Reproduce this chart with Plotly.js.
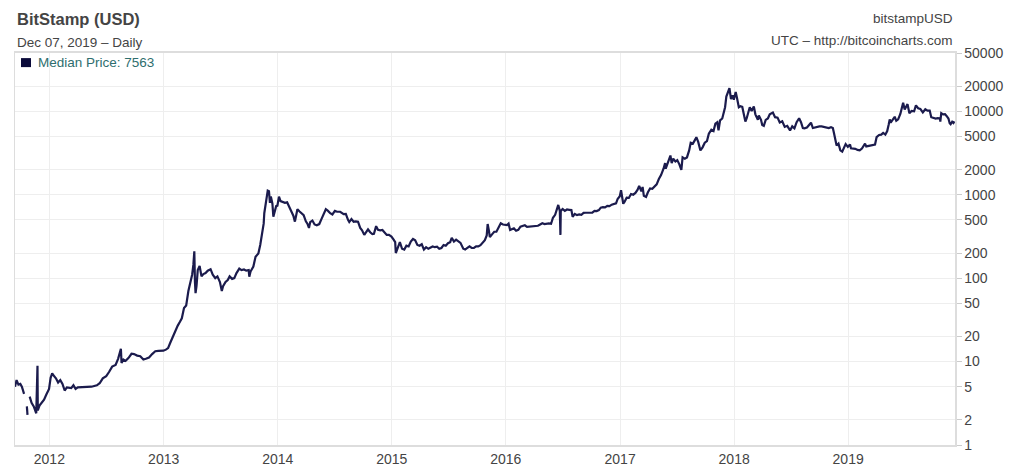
<!DOCTYPE html>
<html>
<head>
<meta charset="utf-8">
<script src="https://cdn.plot.ly/plotly-3.0.1.min.js"></script>
<style>html,body{margin:0;padding:0;background:#fff;}#chart{width:1024px;height:473px;}</style>
</head>
<body>
<div id="chart"></div>
<script>
// Daily median price, BitStamp (USD) (approximate)
const y2011 = [["09-13",5.0],["09-18",6.0],["09-24",5.3],["09-30",5.4],["10-05",5.0],["10-12",4.1],["10-16",null],["10-21",2.9],["10-23",2.3],["10-25",null],["10-30",3.8],["11-05",3.2],["11-12",2.9],["11-20",2.4],["11-24",8.9],["11-25",2.6],["12-01",3.0],["12-08",3.2],["12-15",3.5],["12-22",4.0],["12-31",4.7]];
const y2012 = [["01-05",6.4],["01-10",7.2],["01-15",6.8],["01-22",6.3],["01-29",5.6],["02-05",6.0],["02-12",5.4],["02-19",4.5],["02-26",4.9],["03-04",4.9],["03-11",4.8],["03-18",5.2],["03-25",4.7],["04-01",4.9],["04-15",4.9],["05-01",5.0],["05-15",5.0],["06-01",5.2],["06-10",5.5],["06-20",6.3],["07-01",6.7],["07-10",7.5],["07-20",8.7],["07-31",9.1],["08-08",10.8],["08-17",14.2],["08-19",9.6],["08-25",10.6],["09-01",10.2],["09-10",11.0],["09-20",12.4],["09-28",12.3],["10-08",11.8],["10-18",11.6],["10-28",10.6],["11-05",10.8],["11-15",11.2],["11-25",12.3],["12-05",13.3],["12-15",13.4],["12-31",13.5]];
const y2013 = [["01-08",13.9],["01-15",14.5],["01-22",16.8],["01-31",20.4],["02-08",23],["02-15",27],["02-22",30],["02-28",33],["03-07",44],["03-14",47],["03-21",70],["03-28",88],["04-02",110],["04-06",145],["04-09",210],["04-11",90],["04-13",66],["04-16",80],["04-20",125],["04-26",140],["05-02",105],["05-08",112],["05-15",115],["05-22",123],["05-31",128],["06-07",110],["06-15",100],["06-22",105],["06-30",90],["07-06",70],["07-10",80],["07-18",90],["07-25",95],["07-31",105],["08-08",98],["08-15",100],["08-22",115],["08-31",130],["09-07",125],["09-15",127],["09-22",123],["09-30",125],["10-02",104],["10-06",120],["10-15",138],["10-22",180],["10-31",198],["11-06",250],["11-12",330],["11-17",450],["11-19",600],["11-23",800],["11-30",1120],["12-04",1100],["12-07",800],["12-10",950],["12-15",780],["12-18",546],["12-22",620],["12-27",730],["12-31",740]];
const y2014 = [["01-05",950],["01-10",840],["01-17",820],["01-24",800],["01-31",810],["02-07",700],["02-14",620],["02-20",560],["02-25",476],["02-28",560],["03-05",670],["03-12",630],["03-19",600],["03-25",570],["04-01",480],["04-06",450],["04-11",400],["04-15",470],["04-22",490],["04-29",440],["05-06",430],["05-14",445],["05-22",520],["05-31",630],["06-04",670],["06-11",640],["06-18",600],["06-25",580],["07-03",640],["07-10",625],["07-20",625],["07-31",585],["08-07",590],["08-14",500],["08-18",470],["08-25",510],["09-01",475],["09-08",480],["09-15",475],["09-22",400],["09-28",375],["10-05",330],["10-10",350],["10-17",385],["10-24",355],["10-31",338],["11-05",340],["11-12",420],["11-18",380],["11-25",375],["12-02",378],["12-09",350],["12-16",330],["12-23",330],["12-31",315]];
const y2015 = [["01-07",290],["01-12",270],["01-14",200],["01-16",210],["01-22",230],["01-27",270],["02-03",225],["02-10",220],["02-17",245],["02-24",240],["03-03",275],["03-10",295],["03-17",285],["03-24",250],["03-31",245],["04-07",255],["04-14",220],["04-21",235],["04-28",225],["05-05",235],["05-12",240],["05-19",235],["05-26",238],["06-02",225],["06-09",230],["06-16",250],["06-23",245],["06-30",262],["07-07",270],["07-12",305],["07-19",275],["07-26",290],["08-02",280],["08-09",265],["08-18",225],["08-24",220],["08-31",230],["09-07",240],["09-14",230],["09-21",230],["09-28",240],["10-05",240],["10-12",248],["10-19",265],["10-26",285],["11-01",325],["11-04",446],["11-08",370],["11-11",310],["11-18",335],["11-25",360],["12-02",360],["12-09",410],["12-16",455],["12-23",440],["12-31",430]];
const y2016 = [["01-05",432],["01-10",450],["01-15",378],["01-20",385],["01-27",395],["02-03",370],["02-10",380],["02-17",415],["02-24",420],["03-02",430],["03-09",412],["03-16",415],["03-23",415],["03-30",415],["04-06",422],["04-13",425],["04-20",440],["04-27",455],["05-04",445],["05-11",452],["05-18",454],["05-25",448],["05-31",530],["06-07",575],["06-12",680],["06-17",755],["06-22",640],["06-24",330],["06-25",640],["07-01",675],["07-08",640],["07-15",665],["07-22",660],["07-29",655],["08-02",545],["08-09",590],["08-16",570],["08-23",580],["08-30",575],["09-06",605],["09-13",608],["09-20",605],["09-27",605],["10-04",610],["10-11",640],["10-18",637],["10-25",655],["10-31",700],["11-07",710],["11-14",705],["11-21",735],["11-28",730],["12-05",760],["12-12",775],["12-19",790],["12-24",890],["12-31",960]];
const y2017 = [["01-04",1130],["01-07",900],["01-11",780],["01-15",820],["01-22",920],["01-29",915],["02-05",1020],["02-12",1000],["02-19",1050],["02-26",1150],["03-03",1280],["03-10",1100],["03-14",1240],["03-18",970],["03-25",940],["03-31",1070],["04-07",1190],["04-14",1180],["04-21",1240],["04-28",1330],["05-05",1540],["05-12",1720],["05-20",2050],["05-25",2400],["05-27",2050],["06-03",2500],["06-11",2950],["06-15",2400],["06-20",2700],["06-27",2500],["07-03",2600],["07-10",2300],["07-16",1980],["07-20",2800],["07-27",2700],["08-03",2800],["08-10",3400],["08-15",4200],["08-22",4100],["08-31",4700],["09-02",4900],["09-08",4300],["09-15",3400],["09-22",3700],["09-29",4200],["10-06",4400],["10-12",5400],["10-20",6000],["10-27",5800],["11-02",7100],["11-08",7400],["11-12",5900],["11-17",7800],["11-24",8200],["11-29",10000],["12-03",11200],["12-07",15000],["12-12",17000],["12-17",18900],["12-22",14000],["12-27",15500],["12-31",13800]];
const y2018 = [["01-06",17000],["01-10",14500],["01-16",11200],["01-21",11500],["01-27",11300],["02-01",9200],["02-06",7530],["02-10",8200],["02-16",10100],["02-20",11200],["02-26",10100],["03-05",11400],["03-10",9200],["03-18",7900],["03-21",8900],["03-28",7900],["04-01",6870],["04-06",6700],["04-12",7900],["04-19",8200],["04-25",9200],["05-05",9650],["05-12",8500],["05-20",8400],["05-27",7350],["06-04",7600],["06-12",6500],["06-20",6700],["06-29",5900],["07-06",6600],["07-13",6250],["07-20",7400],["07-28",8250],["08-03",7400],["08-09",6300],["08-14",6250],["08-22",6400],["08-30",7000],["09-04",7300],["09-10",6300],["09-17",6400],["09-24",6600],["10-01",6600],["10-08",6600],["10-15",6500],["10-22",6400],["10-31",6300],["11-07",6450],["11-13",6300],["11-16",5600],["11-20",4500],["11-25",3900],["12-01",4100],["12-07",3400],["12-13",3290],["12-18",3600],["12-24",4050],["12-31",3750]];
const y2019 = [["01-07",4000],["01-10",3600],["01-17",3600],["01-24",3550],["01-31",3450],["02-07",3400],["02-14",3580],["02-20",3950],["02-24",4100],["02-28",3800],["03-07",3850],["03-15",3900],["03-22",4000],["03-28",4000],["04-02",4900],["04-10",5200],["04-17",5250],["04-23",5500],["04-30",5250],["05-06",5800],["05-11",7000],["05-14",8000],["05-17",7300],["05-24",8000],["05-30",8600],["06-04",7700],["06-10",8000],["06-17",9300],["06-22",10700],["06-26",12700],["07-01",10500],["07-10",12200],["07-16",9500],["07-23",10100],["07-31",10000],["08-06",11800],["08-13",10900],["08-20",10700],["08-28",9700],["09-05",10600],["09-12",10200],["09-19",10200],["09-24",8500],["10-01",8300],["10-08",8200],["10-15",8300],["10-22",8200],["10-23",7500],["10-26",9500],["11-01",9200],["11-07",9250],["11-12",8800],["11-18",8200],["11-22",7200],["11-25",7000],["11-30",7500],["12-04",7250],["12-07",7563]];

const years = {2011:y2011,2012:y2012,2013:y2013,2014:y2014,2015:y2015,2016:y2016,2017:y2017,2018:y2018,2019:y2019};
const yTickVals = [1,2,5,10,20,50,100,200,500,1000,2000,5000,10000,20000,50000];
const yTickText = yTickVals.map(String);
const xTickYears = ["2012","2013","2014","2015","2016","2017","2018","2019"];

const dates = [], prices = [];
Object.keys(years).forEach(yr => {
  years[yr].forEach(p => { dates.push(yr + "-" + p[0]); prices.push(p[1]); });
});
const lastPrice = prices[prices.length - 1];

const font = "Liberation Sans, Arial, sans-serif";
const trace = {
  x: dates, y: prices, type: "scatter", mode: "lines",
  line: {color: "#1b1b4d", width: 2.2}, connectgaps: false, hoverinfo: "x+y"
};
const layout = {
  width: 1024, height: 473,
  margin: {l: 15, r: 69, t: 53, b: 28},
  paper_bgcolor: "#fff", plot_bgcolor: "#fff",
  showlegend: false,
  font: {family: font, size: 14, color: "#444"},
  xaxis: {
    type: "date", range: ["2011-09-13", "2019-12-09"],
    tickvals: xTickYears.map(y => y + "-01-01"), ticktext: xTickYears,
    showgrid: true, gridcolor: "#eeeeee", gridwidth: 1,
    showline: true, linecolor: "#dddddd", linewidth: 2, mirror: true,
    ticks: "", zeroline: false,
    tickfont: {family: font, size: 14, color: "#444"}
  },
  yaxis: {
    type: "log", side: "right",
    range: [0, Math.log10(50000)],
    tickvals: yTickVals, ticktext: yTickText,
    showgrid: true, gridcolor: "#eeeeee", gridwidth: 1,
    showline: true, linecolor: "#dddddd", linewidth: 1.5, mirror: true,
    ticks: "outside", ticklen: 5, tickcolor: "#cccccc", tickwidth: 1,
    zeroline: false,
    tickfont: {family: font, size: 14, color: "#444"}
  },
  shapes: [
    {type: "rect", xref: "paper", yref: "paper", x0: 0.0064, x1: 0.0170, y0: 0.964, y1: 0.987,
     fillcolor: "#0a0a3a", line: {width: 0}}
  ],
  annotations: [
    {text: "<b>BitStamp (USD)</b>", xref: "paper", yref: "paper", x: 0, y: 1.087, xanchor: "left", yanchor: "middle",
     showarrow: false, font: {family: font, size: 16.5, color: "#444"}},
    {text: "Dec 07, 2019 \u2013 Daily", xref: "paper", yref: "paper", x: 0, y: 1.027, xanchor: "left", yanchor: "middle",
     showarrow: false, font: {family: font, size: 13.5, color: "#444"}},
    {text: "bitstampUSD", xref: "paper", yref: "paper", x: 1, y: 1.089, xanchor: "right", yanchor: "middle",
     showarrow: false, font: {family: font, size: 13.5, color: "#444"}},
    {text: "UTC \u2013 http://bitcoincharts.com", xref: "paper", yref: "paper", x: 1, y: 1.031, xanchor: "right", yanchor: "middle",
     showarrow: false, font: {family: font, size: 13.5, color: "#444"}},
    {text: "Median Price: " + lastPrice, xref: "paper", yref: "paper", x: 0.022, y: 0.977, xanchor: "left", yanchor: "middle",
     showarrow: false, font: {family: font, size: 13.5, color: "#2e6e6e"}}
  ]
};
Plotly.newPlot("chart", [trace], layout, {displayModeBar: false, staticPlot: true});
</script>
</body>
</html>
